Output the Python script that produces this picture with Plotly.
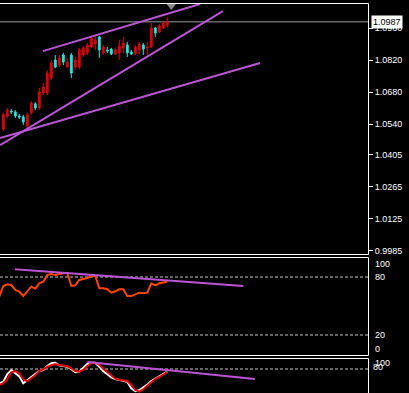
import plotly.graph_objects as go

# ---------------- data ----------------
bars = list(range(42))
opens = [1.0518, 1.0575, 1.0597, 1.0593, 1.0575, 1.0571, 1.0531, 1.0589, 1.0628, 1.0610,
         1.0676, 1.0676, 1.0741, 1.0820, 1.0798, 1.0842, 1.0789, 1.0842, 1.0789, 1.0789,
         1.0842, 1.0851, 1.0877, 1.0890, 1.0921, 1.0851, 1.0864, 1.0868, 1.0846, 1.0851,
         1.0873, 1.0886, 1.0855, 1.0846, 1.0864, 1.0886, 1.0873, 1.0877, 1.0960, 1.0943,
         1.0960, 1.0973]
highs = [1.0589, 1.0610, 1.0606, 1.0601, 1.0584, 1.0580, 1.0589, 1.0641, 1.0636, 1.0698,
         1.0719, 1.0776, 1.0820, 1.0842, 1.0842, 1.0851, 1.0829, 1.0851, 1.0833, 1.0873,
         1.0881, 1.0894, 1.0925, 1.0925, 1.0925, 1.0886, 1.0877, 1.0873, 1.0873, 1.0908,
         1.0921, 1.0899, 1.0864, 1.0886, 1.0899, 1.0894, 1.0899, 1.0982, 1.0964, 1.0978,
         1.0991, 1.1008]
lows = [1.0510, 1.0566, 1.0584, 1.0566, 1.0562, 1.0536, 1.0522, 1.0580, 1.0601, 1.0601,
        1.0667, 1.0667, 1.0732, 1.0785, 1.0789, 1.0798, 1.0785, 1.0741, 1.0776, 1.0781,
        1.0833, 1.0842, 1.0873, 1.0864, 1.0829, 1.0842, 1.0851, 1.0842, 1.0842, 1.0820,
        1.0851, 1.0833, 1.0842, 1.0842, 1.0846, 1.0842, 1.0842, 1.0873, 1.0921, 1.0938,
        1.0956, 1.0964]
closes = [1.0580, 1.0601, 1.0593, 1.0575, 1.0571, 1.0549, 1.0580, 1.0632, 1.0610, 1.0680,
          1.0702, 1.0763, 1.0807, 1.0789, 1.0829, 1.0811, 1.0811, 1.0763, 1.0820, 1.0864,
          1.0873, 1.0886, 1.0916, 1.0908, 1.0864, 1.0877, 1.0860, 1.0846, 1.0864, 1.0881,
          1.0894, 1.0851, 1.0846, 1.0877, 1.0890, 1.0868, 1.0877, 1.0960, 1.0938, 1.0969,
          1.0982, 1.0987]

ind_bars = list(range(-1, 42))
rsi = [59.6, 70.7, 72.4, 71.7, 66.6, 64.8, 60.3, 64.8, 70.0, 67.9, 73.5, 75.1, 82.1, 83.1,
       82.1, 83.1, 83.4, 84.4, 70.7, 71.4, 76.9, 77.6, 79.0, 81.0, 81.0, 68.3, 68.3, 67.3,
       63.8, 65.2, 67.3, 67.3, 60.3, 60.3, 62.4, 63.8, 63.1, 63.8, 73.5, 71.4, 73.5, 74.1, 75.1]
stoch_main = [54.0, 56.9, 70.9, 77.6, 72.2, 66.7, 54.0, 59.5, 66.0, 70.9, 76.4, 78.2, 85.5,
              90.4, 91.5, 86.7, 85.5, 84.2, 79.5, 74.0, 75.1, 81.3, 89.1, 91.5, 91.5, 84.2,
              75.8, 70.4, 64.9, 61.8, 60.0, 59.5, 56.9, 44.9, 39.5, 41.3, 46.0, 51.5, 58.2,
              62.4, 66.7, 70.9, 75.1]
stoch_signal = [50.9, 54.0, 61.3, 74.0, 76.4, 72.2, 61.3, 57.6, 63.1, 68.5, 76.4, 79.5, 84.2,
                87.3, 89.1, 87.3, 86.0, 84.9, 81.3, 76.4, 75.1, 78.2, 85.5, 90.4, 91.5, 87.8,
                80.5, 74.5, 67.8, 62.4, 60.5, 60.0, 58.2, 50.9, 41.8, 38.7, 43.1, 49.6, 56.4,
                61.8, 65.5, 70.4, 74.5]

# trend lines (bar index, value)
price_tl_x = [[9.9, 49.2], [-0.8, 54.9], [-0.8, 64.2]]
price_tl_y = [[1.0859, 1.1065], [1.0448, 1.1034], [1.0479, 1.0807]]
rsi_tl_x = [2.9, 60.0]
rsi_tl_y = [88.0, 70.7]
sto_tl_x = [21.0, 62.9]
sto_tl_y = [92.7, 61.8]

price_ticks = [1.0960, 1.0820, 1.0680, 1.0540, 1.0405, 1.0265, 1.0125, 0.9985]
price_tick_text = ["1.0960", "1.0820", "1.0680", "1.0540", "1.0405", "1.0265", "1.0125", "0.9985"]
rsi_levels = [80, 20]
rsi_labels = ["100", "80", "20", "0"]
sto_levels = [80]
sto_labels = ["100", "80"]

# ---------------- styling / layout ----------------
W, H = 409, 393
PR = 368  # right edge of panels in px
RED = "#E00000"
CYAN = "#22E5E5"
VIOLET = "#BA55D3"
FONT = "Liberation Sans"


def xp(px):
    return px / PR


def yp(px):
    return 1 - px / H


X_RANGE = [-0.825, 91.175]
Y_RANGE = [0.99713, 1.10694]
RSI_RANGE = [-0.7, 100.7]
STO_RANGE = [36.4, 100.0]

fig = go.Figure()

fig.add_trace(go.Candlestick(
    x=bars, open=opens, high=highs, low=lows, close=closes,
    increasing=dict(line=dict(color=RED, width=1), fillcolor=RED),
    decreasing=dict(line=dict(color=CYAN, width=1), fillcolor=CYAN),
    whiskerwidth=0, xaxis="x", yaxis="y", showlegend=False, hoverinfo="skip"))

for tx, ty in zip(price_tl_x, price_tl_y):
    fig.add_trace(go.Scatter(x=tx, y=ty, mode="lines", line=dict(color=VIOLET, width=2),
                             xaxis="x", yaxis="y", showlegend=False, hoverinfo="skip"))

# chart shift marker
ppx = (Y_RANGE[1] - Y_RANGE[0]) / (254 - 3)
fig.add_trace(go.Scatter(x=[bars[-1] + 1], y=[Y_RANGE[1] - 2.5 * ppx], mode="markers",
                         marker=dict(symbol="triangle-down", size=9, color="#8a8a8a"),
                         cliponaxis=False, xaxis="x", yaxis="y", showlegend=False, hoverinfo="skip"))

fig.add_trace(go.Scatter(x=ind_bars, y=rsi, mode="lines", line=dict(color="#FF4500", width=2),
                         xaxis="x2", yaxis="y2", showlegend=False, hoverinfo="skip"))
fig.add_trace(go.Scatter(x=rsi_tl_x, y=rsi_tl_y, mode="lines", line=dict(color=VIOLET, width=2),
                         xaxis="x2", yaxis="y2", showlegend=False, hoverinfo="skip"))

fig.add_trace(go.Scatter(x=ind_bars, y=stoch_main, mode="lines", line=dict(color="#FFFFFF", width=2),
                         xaxis="x3", yaxis="y3", showlegend=False, hoverinfo="skip"))
fig.add_trace(go.Scatter(x=ind_bars, y=stoch_signal, mode="lines", line=dict(color=RED, width=2),
                         xaxis="x3", yaxis="y3", showlegend=False, hoverinfo="skip"))
fig.add_trace(go.Scatter(x=sto_tl_x, y=sto_tl_y, mode="lines", line=dict(color=VIOLET, width=2),
                         xaxis="x3", yaxis="y3", showlegend=False, hoverinfo="skip"))

hidden_x = dict(range=X_RANGE, showgrid=False, zeroline=False, showticklabels=False,
                showline=False, ticks="", fixedrange=True)

shapes = []
# bid line
shapes.append(dict(type="line", xref="x domain", x0=0, x1=1, yref="y", y0=closes[-1], y1=closes[-1],
                   line=dict(color="#9a9a9a", width=1), layer="below"))
# dashed levels
for lv in rsi_levels:
    shapes.append(dict(type="line", xref="x2 domain", x0=0, x1=1, yref="y2", y0=lv, y1=lv,
                       line=dict(color="#C8C8C8", width=1, dash="3px,2px"), layer="below"))
for lv in sto_levels:
    shapes.append(dict(type="line", xref="x3 domain", x0=0, x1=1, yref="y3", y0=lv, y1=lv,
                       line=dict(color="#C8C8C8", width=1, dash="3px,2px"), layer="below"))
# panel borders
for top, bot in [(3.5, 254.5), (257.5, 355.5), (358.5, 400)]:
    for yy in (top, bot):
        shapes.append(dict(type="line", xref="paper", yref="paper", x0=0, x1=xp(PR + 0.5),
                           y0=yp(yy), y1=yp(yy), line=dict(color="#FFFFFF", width=1)))
    shapes.append(dict(type="line", xref="paper", yref="paper", x0=xp(PR + 0.5), x1=xp(PR + 0.5),
                       y0=yp(top), y1=yp(bot), line=dict(color="#FFFFFF", width=1)))

annotations = []
annotations.append(dict(xref="paper", x=xp(370.5), xanchor="left", yref="y", y=closes[-1], yanchor="middle",
                        text=f"{closes[-1]:.4f}", showarrow=False, bgcolor="#FFFFFF",
                        font=dict(color="#000000", size=9, family=FONT), borderpad=1))
for lab, cy in zip(rsi_labels, [264, 277, 334.5, 348.5]):
    annotations.append(dict(xref="paper", x=xp(372.5), xanchor="left", yref="paper", y=yp(cy),
                            yanchor="middle", text=lab, showarrow=False,
                            font=dict(color="#FFFFFF", size=9, family=FONT)))
for lab, cx, cy in zip(sto_labels, [372.5, 370.5], [362.5, 367]):
    annotations.append(dict(xref="paper", x=xp(cx), xanchor="left", yref="paper", y=yp(cy),
                            yanchor="middle", text=lab, showarrow=False,
                            font=dict(color="#FFFFFF", size=9, family=FONT)))

fig.update_layout(
    width=W, height=H,
    margin=dict(l=0, r=W - PR, t=0, b=0),
    paper_bgcolor="#000000", plot_bgcolor="#000000",
    hovermode=False, showlegend=False, boxgap=0.35,
    font=dict(family=FONT, color="#FFFFFF", size=9),
    xaxis=dict(domain=[0, 1], anchor="y", rangeslider=dict(visible=False), **hidden_x),
    xaxis2=dict(domain=[0, 1], anchor="y2", **hidden_x),
    xaxis3=dict(domain=[0, 1], anchor="y3", **hidden_x),
    yaxis=dict(domain=[yp(254), yp(3)], range=Y_RANGE, anchor="x", side="right",
               tickvals=price_ticks, ticktext=price_tick_text, ticks="outside", ticklen=4,
               tickcolor="#FFFFFF", tickfont=dict(color="#FFFFFF", size=9, family=FONT),
               showgrid=False, zeroline=False, showline=False, fixedrange=True,
               automargin=False),
    yaxis2=dict(domain=[yp(355), yp(257)], range=RSI_RANGE, anchor="x2", showticklabels=False,
                ticks="", showgrid=False, zeroline=False, showline=False, fixedrange=True),
    yaxis3=dict(domain=[0, yp(358)], range=STO_RANGE, anchor="x3", showticklabels=False,
                ticks="", showgrid=False, zeroline=False, showline=False, fixedrange=True),
    shapes=shapes, annotations=annotations,
)

fig.write_html("out.html", config={"displayModeBar": False},
               post_script="document.body.style.margin='0px';document.body.style.background='#000';")
